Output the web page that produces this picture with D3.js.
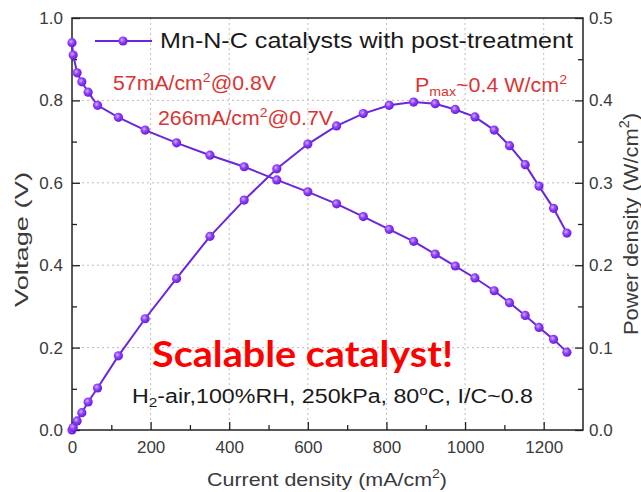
<!DOCTYPE html>
<html>
<head>
<meta charset="utf-8">
<script src="https://cdn.jsdelivr.net/npm/d3@7"></script>
<style>
  html, body { margin: 0; padding: 0; background: #fff; }
  svg { display: block; }
  text { font-family: "Liberation Sans", Arial, sans-serif; }
</style>
</head>
<body>
<svg id="chart" width="641" height="492"></svg>
<script>
// ---- data ----
const currentDensity = [0, 3, 13, 25, 41, 65, 118, 186, 266, 351, 438, 521, 600, 673, 741, 807, 869, 924, 975, 1025, 1074, 1113, 1153, 1188, 1225, 1259];
const voltage = [0.940, 0.910, 0.867, 0.845, 0.820, 0.788, 0.759, 0.728, 0.697, 0.667, 0.639, 0.607, 0.578, 0.549, 0.518, 0.487, 0.458, 0.427, 0.398, 0.369, 0.338, 0.309, 0.278, 0.249, 0.220, 0.189];
const powerDensity = [0, 0.003, 0.011, 0.021, 0.034, 0.051, 0.090, 0.135, 0.184, 0.235, 0.279, 0.317, 0.347, 0.369, 0.384, 0.394, 0.398, 0.396, 0.389, 0.380, 0.364, 0.345, 0.322, 0.296, 0.269, 0.239];
const xTicks = [0, 200, 400, 600, 800, 1000, 1200];
const xMinorTicks = [100, 300, 500, 700, 900, 1100];
const yLeftTicks = [0.0, 0.2, 0.4, 0.6, 0.8, 1.0];
const yLeftMinorTicks = [0.1, 0.3, 0.5, 0.7, 0.9];
const yRightTicks = [0.0, 0.1, 0.2, 0.3, 0.4, 0.5];
const yRightMinorTicks = [0.05, 0.15, 0.25, 0.35, 0.45];
const legendLabel = "Mn-N-C catalysts with post-treatment";

// ---- layout ----
const L = 72, R = 583, T = 18, B = 430;
const svg = d3.select("#chart");
const x = d3.scaleLinear().domain([0, 1300]).range([L, R]);
const yL = d3.scaleLinear().domain([0, 1]).range([B, T]);
const yR = d3.scaleLinear().domain([0, 0.5]).range([B, T]);

const purple = "#6b25dc";
const defs = svg.append("defs");
const grad = defs.append("radialGradient").attr("id", "ball")
  .attr("cx", "40%").attr("cy", "38%").attr("r", "65%");
grad.append("stop").attr("offset", "0%").attr("stop-color", "#d2b0ff");
grad.append("stop").attr("offset", "45%").attr("stop-color", "#8f40fb");
grad.append("stop").attr("offset", "100%").attr("stop-color", "#6418d8");

// grid
const grid = svg.append("g").attr("stroke", "#bdbdbd").attr("stroke-width", 1).attr("stroke-dasharray", "2,3");
grid.selectAll(".gx").data(xTicks.filter(d => d > 0)).join("line")
  .attr("x1", d => x(d)).attr("x2", d => x(d)).attr("y1", B).attr("y2", T);
grid.selectAll(".gy").data(yLeftTicks.filter(d => d > 0 && d < 1)).join("line")
  .attr("x1", L).attr("x2", R).attr("y1", d => yL(d)).attr("y2", d => yL(d));

// axes
function styleAxis(g) {
  g.select(".domain").remove();
  g.selectAll(".tick line").attr("stroke", "#222").attr("stroke-width", 1.3);
  g.selectAll(".tick text").attr("fill", "#3a3a3a").style("font-size", "17px")
    .style("font-family", "'Liberation Sans', Arial, sans-serif");
}
svg.append("g").attr("transform", `translate(0,${B})`)
  .call(d3.axisBottom(x).tickValues(xTicks).tickSize(-8).tickPadding(11).tickFormat(d3.format("d")))
  .call(styleAxis);
svg.append("g").attr("transform", `translate(0,${B})`)
  .call(d3.axisBottom(x).tickValues(xMinorTicks).tickSize(-5).tickFormat(""))
  .call(styleAxis);
svg.append("g").attr("transform", `translate(${L},0)`)
  .call(d3.axisLeft(yL).tickValues(yLeftTicks).tickSize(-8).tickPadding(9).tickFormat(d3.format(".1f")))
  .call(styleAxis);
svg.append("g").attr("transform", `translate(${L},0)`)
  .call(d3.axisLeft(yL).tickValues(yLeftMinorTicks).tickSize(-5).tickFormat(""))
  .call(styleAxis);
svg.append("g").attr("transform", `translate(${R},0)`)
  .call(d3.axisRight(yR).tickValues(yRightTicks).tickSize(-8).tickPadding(6).tickFormat(d3.format(".1f")))
  .call(styleAxis);
svg.append("g").attr("transform", `translate(${R},0)`)
  .call(d3.axisRight(yR).tickValues(yRightMinorTicks).tickSize(-5).tickFormat(""))
  .call(styleAxis);

// frame
svg.append("rect").attr("x", L).attr("y", T).attr("width", R - L).attr("height", B - T)
  .attr("fill", "none").attr("stroke", "#222").attr("stroke-width", 1.5);

// series
const vData = currentDensity.map((c, i) => [c, voltage[i]]);
const pData = currentDensity.map((c, i) => [c, powerDensity[i]]);
const lineV = d3.line().x(d => x(d[0])).y(d => yL(d[1]));
const lineP = d3.line().x(d => x(d[0])).y(d => yR(d[1]));
svg.append("path").attr("d", lineV(vData)).attr("fill", "none").attr("stroke", purple).attr("stroke-width", 2);
svg.append("path").attr("d", lineP(pData)).attr("fill", "none").attr("stroke", purple).attr("stroke-width", 2);
svg.append("g").selectAll("circle").data(vData).join("circle")
  .attr("cx", d => x(d[0])).attr("cy", d => yL(d[1])).attr("r", 4.6).attr("fill", "url(#ball)");
svg.append("g").selectAll("circle").data(pData).join("circle")
  .attr("cx", d => x(d[0])).attr("cy", d => yR(d[1])).attr("r", 4.6).attr("fill", "url(#ball)");

// legend
svg.append("line").attr("x1", 95).attr("x2", 152).attr("y1", 41).attr("y2", 41)
  .attr("stroke", purple).attr("stroke-width", 2);
svg.append("circle").attr("cx", 123).attr("cy", 41).attr("r", 4.6).attr("fill", "url(#ball)");
svg.append("text").attr("x", 160).attr("y", 48).attr("fill", "#1a1a1a")
  .style("font-size", "22px").attr("textLength", 413).attr("lengthAdjust", "spacingAndGlyphs")
  .text(legendLabel);

// rich text helper
function rich(xp, yp, parts, size, fill, len, extra) {
  const t = svg.append("text").attr("x", xp).attr("y", yp).attr("fill", fill)
    .style("font-size", size + "px");
  if (extra) extra(t);
  let shift = 0;
  parts.forEach(p => {
    const target = p.sup ? -size * 0.42 : p.sub ? size * 0.22 : 0;
    const ts = t.append("tspan").attr("dy", target - shift).text(p.t);
    if (p.sup || p.sub) ts.style("font-size", (size * 0.66) + "px");
    shift = target;
  });
  if (len) t.attr("textLength", len).attr("lengthAdjust", "spacingAndGlyphs");
  return t;
}
const red = "#d83535";
rich(113, 90, [{t: "57mA/cm"}, {t: "2", sup: true}, {t: "@0.8V"}], 20, red, 163);
rich(158, 125, [{t: "266mA/cm"}, {t: "2", sup: true}, {t: "@0.7V"}], 20, red, 175);
rich(415, 92, [{t: "P"}, {t: "max", sub: true}, {t: "~0.4 W/cm"}, {t: "2", sup: true}], 20, red, 152);

svg.append("text").attr("x", 152).attr("y", 367).attr("fill", "#ff0000")
  .style("font-family", "Lato, 'Open Sans', sans-serif").style("font-weight", "bold").style("font-size", "37px")
  .attr("textLength", 301).attr("lengthAdjust", "spacingAndGlyphs")
  .text("Scalable catalyst!");

rich(132, 403, [{t: "H"}, {t: "2", sub: true}, {t: "-air,100%RH, 250kPa, 80"}, {t: "o", sup: true}, {t: "C, I/C~0.8"}], 20, "#1a1a1a", 401);

// axis titles
rich(207, 486, [{t: "Current density (mA/cm"}, {t: "2", sup: true}, {t: ")"}], 19, "#3a3a3a", 240);
rich(0, 0, [{t: "Voltage (V)"}], 19, "#3a3a3a", 135,
  t => t.attr("transform", "translate(28,307) rotate(-90)"));
rich(0, 0, [{t: "Power density (W/cm"}, {t: "2", sup: true}, {t: ")"}], 21, "#3a3a3a", 222,
  t => t.attr("transform", "translate(637.5,335) rotate(-90)"));
</script>
</body>
</html>
